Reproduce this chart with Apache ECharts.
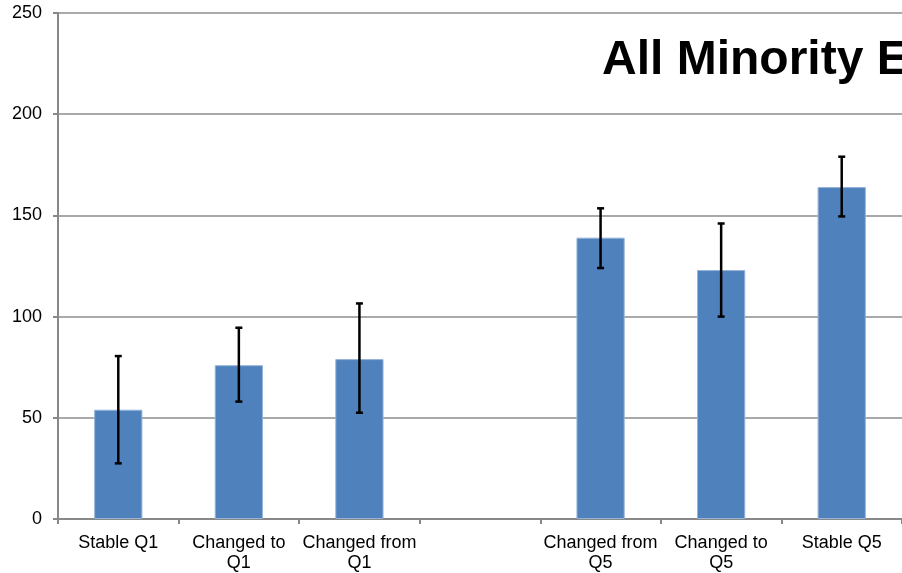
<!DOCTYPE html>
<html>
<head>
<meta charset="utf-8">
<script src="https://cdn.jsdelivr.net/npm/echarts@6/dist/echarts.min.js"></script>
<style>html,body{margin:0;padding:0;background:#fff}#c{width:902px;height:573px}</style>
</head>
<body>
<div id="c"></div>
<script>
const categories = ["Stable Q1", "Changed to\nQ1", "Changed from\nQ1", "", "Changed from\nQ5", "Changed to\nQ5", "Stable Q5"];
const values = [54, 76, 79, null, 139, 123, 164];
const errLow = [27.5, 58, 52.5, null, 124, 100, 149.5];
const errHigh = [80.5, 94.5, 106.5, null, 153.5, 146, 179];
const yTicks = [0, 50, 100, 150, 200, 250];
const titleText = "All Minority Ethnicities";

const chart = echarts.init(document.getElementById('c'), null, {renderer: 'canvas'});
const errData = [];
for (let i = 0; i < categories.length; i++) {
  if (values[i] != null) errData.push([i, errLow[i], errHigh[i]]);
}
const FONT = '"Liberation Sans", Arial, Helvetica, sans-serif';
chart.setOption({
  animation: false,
  backgroundColor: '#fff',
  grid: {left: 58, right: 0, top: 13, bottom: 51, containLabel: false},
  graphic: [{
    type: 'text', left: 602, top: 37,
    style: {text: titleText, font: 'bold 48px ' + FONT, fill: '#000'}
  }],
  xAxis: {
    type: 'category',
    data: categories,
    boundaryGap: true,
    axisLine: {lineStyle: {color: '#888', width: 2}},
    axisTick: {show: true, length: 5, lineStyle: {color: '#888', width: 2}, alignWithLabel: false},
    axisLabel: {interval: 0, color: '#000', fontSize: 18, fontFamily: FONT, lineHeight: 20, margin: 14}
  },
  yAxis: {
    type: 'value', min: yTicks[0], max: yTicks[yTicks.length - 1], interval: 50,
    axisLine: {show: true, lineStyle: {color: '#888', width: 2}},
    axisTick: {show: true, length: 5, lineStyle: {color: '#888', width: 2}},
    splitLine: {lineStyle: {color: '#8c8c8c', width: 1.5}},
    axisLabel: {color: '#000', fontSize: 18, fontFamily: FONT, margin: 16}
  },
  series: [{
    type: 'bar',
    data: values.map(v => v == null ? '-' : v),
    barWidth: '40%',
    itemStyle: {color: '#4F81BD', borderColor: '#95B3D7', borderWidth: 1}
  }, {
    type: 'custom',
    data: errData,
    z: 10,
    renderItem: function (params, api) {
      const x = api.value(0);
      const lo = api.coord([x, api.value(1)]);
      const hi = api.coord([x, api.value(2)]);
      const hw = 3.5;
      const st = {stroke: '#000', lineWidth: 2.5};
      return {type: 'group', children: [
        {type: 'line', shape: {x1: lo[0], y1: lo[1], x2: hi[0], y2: hi[1]}, style: st},
        {type: 'line', shape: {x1: lo[0] - hw, y1: lo[1], x2: lo[0] + hw, y2: lo[1]}, style: st},
        {type: 'line', shape: {x1: hi[0] - hw, y1: hi[1], x2: hi[0] + hw, y2: hi[1]}, style: st}
      ]};
    }
  }]
});
</script>
</body>
</html>
